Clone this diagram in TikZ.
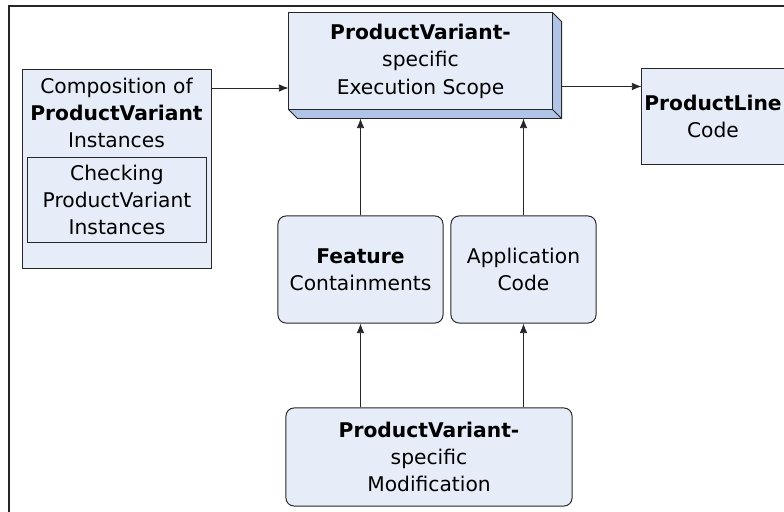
\documentclass[tikz,border=0pt]{standalone}
\usepackage{fontspec}
\setmainfont{DejaVu Sans}
\usetikzlibrary{arrows.meta,calc}

\definecolor{boxfill}{HTML}{E7EDF8}
\definecolor{sidefill}{HTML}{AFC4E6}
\definecolor{edge}{HTML}{262626}

\tikzset{
  blk/.style={draw=edge, fill=boxfill, line width=0.7pt, align=center, inner sep=0pt},
  rblk/.style={blk, rounded corners=0.2cm},
  arr/.style={-{Latex[length=2.4mm,width=1.9mm]}, line width=0.6pt, draw=edge}
}

\begin{document}
\begin{tikzpicture}[x=0.025cm, y=-0.025cm, font=\fontsize{14.4}{19.5}\selectfont]
    \useasboundingbox (0,0) rectangle (784,512);
    \clip (0,0) rectangle (784,512);
    % frame
    \draw [line width=1pt, draw=edge] (9,6) rectangle (800,530);

    % composition box with the checking box inside
    \node [blk, anchor=north west, minimum width=4.725cm, minimum height=4.975cm] (comp) at (22,69) {};
    \node [align=center] (comptext) at (116.5,113) {Composition of\\\textbf{ProductVariant}\\Instances};
    \node [blk, minimum width=4.45cm, minimum height=2.1cm] (check) at (117,200) {Checking\\ProductVariant\\Instances};

    % execution scope, drawn as a raised block
    \node [blk, minimum width=6.575cm, minimum height=2.4cm] (scope) at (420.5,61) {};
    \draw [fill=sidefill, draw=edge, line width=0.7pt, line join=round]
        (scope.north east) -- ($(scope.north east)+(9,9)$) -- ($(scope.south east)+(9,9)$)
        -- ($(scope.south west)+(9,9)$) -- (scope.south west);
    \draw [draw=edge, line width=0.7pt] (scope.south east) -- ($(scope.south east)+(9,9)$);
    \node [blk] at (scope) [minimum width=6.575cm, minimum height=2.4cm] {\textbf{ProductVariant-}\\specific\\Execution Scope};
    \coordinate (scopebase) at ($(scope.south)+(0,9)$);
    \coordinate (scopeside) at ($(scope.east)+(9,0)$);

    \node [blk, minimum width=3.55cm, minimum height=2.375cm] (line) at (713,116.5) {\textbf{ProductLine}\\Code};

    % containments and code
    \node [rblk, minimum width=4.125cm, minimum height=2.675cm] (feature) at (360.5,269.5) {\textbf{Feature}\\Containments};
    \node [rblk, minimum width=3.625cm, minimum height=2.675cm] (app) at (523.5,269.5) {Application\\Code};

    \node [rblk, minimum width=7.15cm, minimum height=2.45cm] (mod) at (429,457) {\textbf{ProductVariant-}\\specific\\Modification};

    % arrows
    \coordinate (compout) at ($(comp.north east)+(0,19)$);
    \draw [arr] (compout) -- (compout -| scope.west);
    \coordinate (linein) at ($(line.north west)+(0,18)$);
    \draw [arr] (scopeside |- linein) -- (linein);

    \draw [arr] (feature.north) -- (feature.north |- scopebase);
    \draw [arr] (app.north) -- (app.north |- scopebase);
    \draw [arr] (mod.north -| feature) -- (feature.south);
    \draw [arr] (mod.north -| app) -- (app.south);
\end{tikzpicture}
\end{document}
